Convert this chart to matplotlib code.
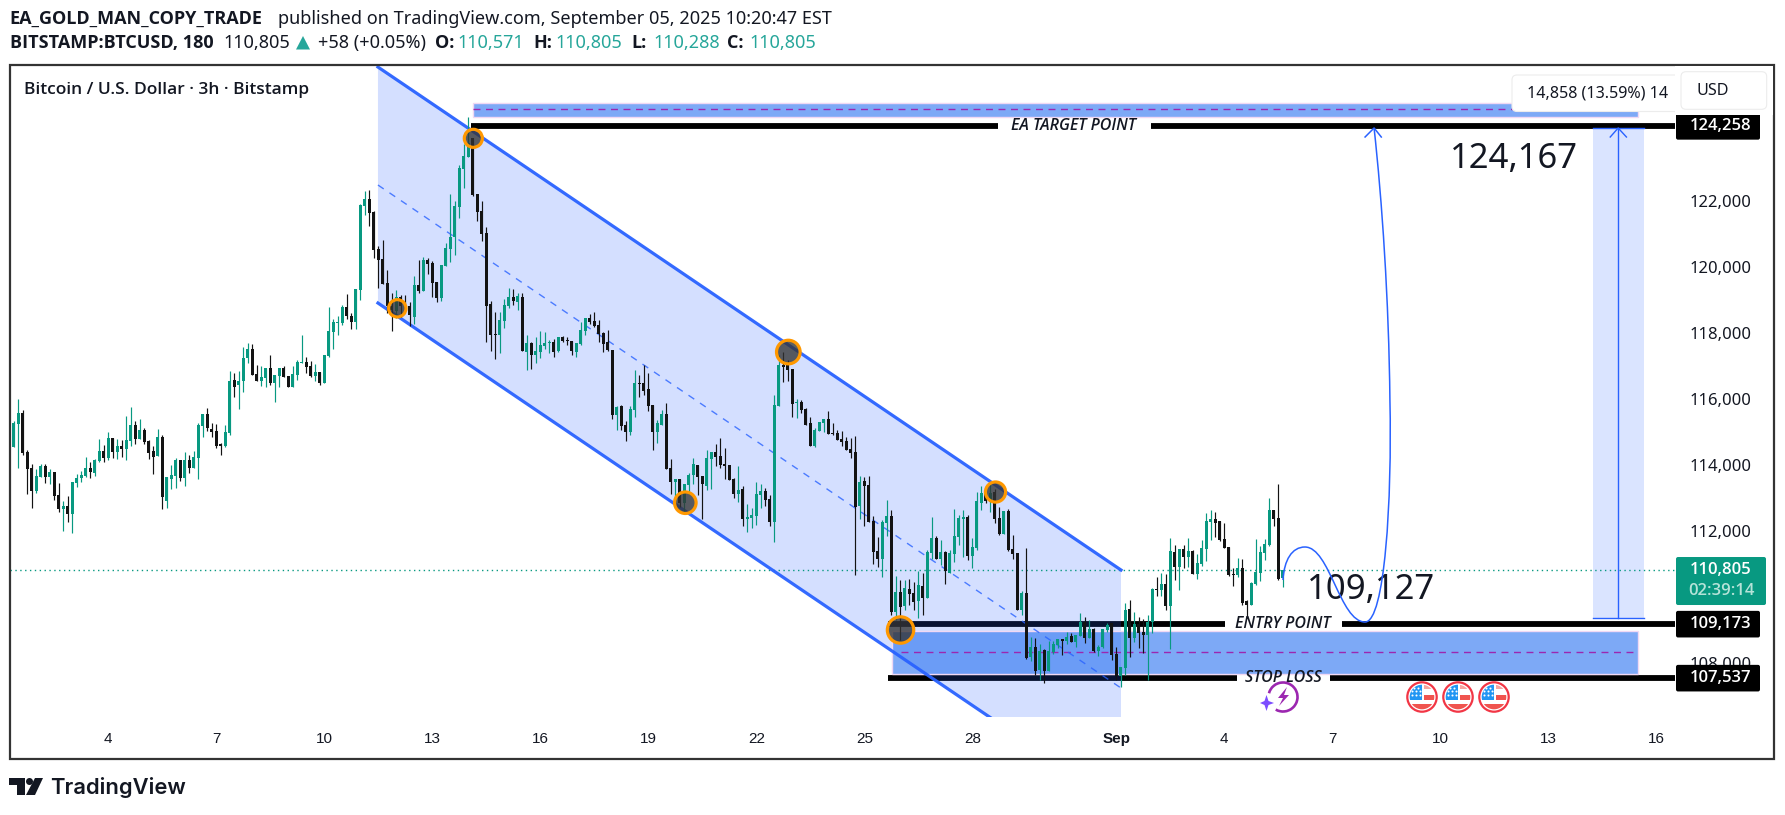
import numpy as np
import matplotlib
matplotlib.use("Agg")
from matplotlib import pyplot as plt
from matplotlib.path import Path
from matplotlib.patches import PathPatch, Rectangle, FancyBboxPatch, Circle, Arc, Polygon

plt.rcParams['font.family'] = ['Noto Sans', 'DejaVu Sans']
bold_font = ['Open Sans', 'DejaVu Sans']

# 3h candles, the first one opens on day 1.25 (day 32 is Sep 1)
first_day = 1.25
candles_per_day = 8

opens = [
    115560,114550,115240,115570,114390,113900,113210,113630,113970,113630,
    113780,113090,112660,112750,112510,113450,113600,113660,113900,113750,
    114120,114420,114210,114810,114390,114570,114480,114720,115210,114780,
    115060,114720,114420,114270,114840,112900,113570,113660,114150,113600,
    114150,113900,114210,115180,115540,115090,115030,114600,114570,114960,
    116570,116420,116540,117240,117510,116750,116540,116630,116930,116480,
    116690,116930,116690,116360,116720,117090,117120,117000,116690,116810,
    116480,117300,118030,118300,118300,118780,118510,118330,119300,121840,
    122060,121660,120540,120240,119510,118810,118660,119090,118840,118810,
    118480,119450,119270,120210,120120,119540,119060,120030,120540,120900,
    121810,122960,123330,123890,122210,121690,121030,118870,117970,117930,
    118360,118810,119090,118930,119090,117420,117690,117330,117420,117600,
    117690,117720,117450,117870,117780,117750,117420,117660,118060,118450,
    118360,118240,118000,117720,117480,115510,115780,115210,115000,115660,
    116480,116480,116300,115810,115000,115210,115540,113900,113480,113570,
    112840,113390,113690,114000,113660,113360,114180,114390,114270,114030,
    114000,113570,113120,113270,112360,112390,112450,113090,113210,112970,
    112270,115780,117030,117080,116900,115880,115900,115690,115270,114570,
    115030,115270,115390,114970,114970,114780,114720,114480,114390,112750,
    113510,113390,112300,111390,111150,112240,112450,109540,110150,109720,
    110240,110120,109880,110330,109970,111330,111780,111150,111360,110720,
    111300,111810,112360,112420,111240,111480,112840,113150,112870,113180,
    112390,111900,112600,111450,111330,109600,110120,108180,108480,107780,
    108390,107750,108330,108540,108700,108660,108810,108630,108810,109240,
    108750,109030,108360,108480,109000,109210,108270,107600,107850,109630,
    108750,109180,108930,108840,109240,110240,110210,110390,109720,111360,
    110900,111450,111210,111390,110690,111000,111450,112270,112360,112300,
    111750,111510,110690,110660,110870,109870,109750,110390,110720,111330,
    111570,112630,112390,110571]
highs = [
    115560,115340,116000,115660,114450,114030,113870,114030,114030,113870,
    113780,113450,112900,113060,113480,113720,113810,114240,114090,114180,
    114780,114600,115000,114810,114780,114750,115480,115750,115330,115390,
    115120,114750,114570,115090,114900,113630,114000,114210,114150,114390,
    114300,114420,115270,115540,115720,115270,115240,114660,115210,116840,
    116780,116840,117570,117690,117660,117030,117000,116930,117330,116720,
    116930,117000,116690,117000,117180,117930,117270,117150,117060,116810,
    117330,118780,118420,118510,118840,119180,118600,119330,121900,122300,
    122330,121690,120630,120810,119900,119210,119300,119150,119150,118930,
    119720,120210,120300,120270,120180,119540,120060,120720,122210,122000,
    123090,123720,124540,123890,122210,122000,121210,118970,118630,118630,
    119030,119360,119330,119210,119210,117930,117720,117870,118060,118030,
    117780,117810,117870,117900,117870,117750,117690,118330,118450,118570,
    118630,118390,118030,118090,117480,115780,115810,115330,115780,116870,
    116720,117030,116780,115810,115360,115660,115870,114180,113570,113570,
    113420,113750,114210,114000,113660,114450,114390,114630,114810,114510,
    114000,113600,113970,113360,112810,112690,113480,113420,113300,113090,
    116120,117330,117420,117180,116900,116000,115970,115720,115450,115120,
    115300,115390,115630,115270,115060,115030,114840,114810,114870,113660,
    113630,113660,112450,111810,112330,112930,112630,110630,110510,110510,
    110540,110450,110780,110720,111420,112420,111840,111720,111390,111420,
    112660,112480,112630,112480,111780,113180,113360,113180,113480,113270,
    112720,112600,112660,111870,111330,110180,111470,108780,108750,108570,
    108420,108660,108660,108720,108720,108930,108900,108840,109510,109390,
    109300,109060,108540,109030,109210,109210,108480,107870,109810,109900,
    109540,109390,109330,109450,110270,110600,110720,110690,111780,111570,
    111450,111570,111780,111420,111300,111720,112540,112630,112570,112300,
    112240,111510,110870,111180,111150,109900,110450,111750,111540,111750,
    113000,112630,113420,110805]
lows = [
    114570,114550,113910,114300,113130,112700,113150,113630,113450,113420,
    112930,112570,112000,112270,111940,113330,113480,113630,113600,113660,
    114090,114090,114150,114210,114180,114240,114150,114570,114630,114780,
    114630,114180,113720,114270,112660,112690,113270,113300,113510,113360,
    113750,113900,113570,114840,115030,114840,114510,114300,114540,114900,
    116060,115690,116210,117090,116720,116540,116390,116360,116420,115900,
    116360,116660,116360,116360,116570,117090,116780,116660,116540,116420,
    116480,117270,117510,117930,118240,118420,118120,118120,119000,121570,
    121240,120270,119360,119480,118600,118060,118450,118480,118690,118210,
    118270,119210,119270,119780,119090,118930,118970,120030,120150,120360,
    121480,122390,123330,122150,121390,120780,117720,117450,117210,117390,
    118150,118750,118840,118690,117450,116870,116900,117090,117240,117510,
    117390,117270,117420,117720,117630,117330,117270,117630,117930,118270,
    118180,117720,117420,117450,115390,115060,115060,114720,114900,115450,
    116060,116120,115630,114450,114660,115210,113870,113120,112720,112720,
    112570,113120,113420,113090,112360,113240,113270,113970,113900,113570,
    113540,113000,112870,112150,111970,112090,112180,112690,112750,112150,
    111660,115780,116510,116540,115450,115420,115570,115210,114570,114540,
    115030,115000,114930,114900,114750,114570,114450,114210,110660,112360,
    112150,112270,111000,110900,110600,111840,109450,109300,108690,109600,
    109750,109600,109360,109450,109970,111150,111150,110970,110390,110720,
    111060,111570,111210,111120,110870,111420,112630,112840,112570,112240,
    111870,111900,111390,111150,109600,109450,108120,108060,107630,107480,
    107390,107750,108270,108450,108240,108570,108630,108480,108810,108600,
    108750,108330,108210,108450,108930,108090,107480,107270,107630,108180,
    108630,108450,108300,107480,108900,110030,110030,109600,108420,110510,
    110210,110870,110900,110690,110540,110930,111090,111720,111810,111690,
    111480,110630,110330,110600,109750,109360,109750,110360,110480,111120,
    111540,112150,110510,110288]
closes = [
    114570,115270,115570,114360,113870,113210,113660,113970,113630,113780,
    113060,112660,112750,112510,113480,113600,113690,113900,113780,114150,
    114420,114210,114810,114390,114570,114480,114750,115210,114780,115060,
    114690,114360,114240,114840,113030,113630,113690,114150,113600,114150,
    113900,114240,115210,115540,115120,115000,114570,114580,115000,116540,
    116360,116540,117240,117510,116720,116540,116660,116930,116480,116720,
    116930,116660,116360,116750,117120,117120,116970,116690,116810,116480,
    117330,118060,118330,118330,118780,118510,118330,119330,121870,122060,
    121630,120510,120210,119480,118810,118690,119090,118810,118810,118540,
    119450,119270,120210,120090,119510,119060,120060,120570,120900,121840,
    123000,123360,123740,122180,121660,121000,118810,117930,117930,118390,
    118840,119090,118970,119120,117450,117690,117330,117450,117630,117690,
    117720,117420,117870,117750,117750,117450,117690,118090,118450,118330,
    118210,117970,117660,117480,115510,115750,115180,115000,115690,116480,
    116450,116240,115780,115000,115270,115540,113870,113480,113570,112840,
    113420,113690,114030,113630,113420,114210,114390,114240,114000,113970,
    113540,113120,113240,112360,112420,112480,113120,113210,112930,112270,
    115810,117030,116970,116870,115840,115910,115660,115210,114570,115060,
    115300,115390,114930,114930,114750,114690,114450,114360,112730,113480,
    113360,112270,111360,111150,112270,112450,109540,110150,109700,110270,
    110090,109840,110360,109970,111360,111780,111150,111360,110780,111330,
    111840,112390,112420,111240,111510,112900,113150,112900,113150,112360,
    111900,112600,111420,111300,109600,110120,108150,108480,107750,108360,
    107750,108360,108570,108720,108670,108780,108630,108840,109240,108750,
    109030,108360,108480,109030,109150,108240,107600,107870,109600,108750,
    109180,108900,108840,109240,110240,110210,110390,109720,111390,110900,
    111450,111210,111390,110690,111030,111480,112300,112360,112240,111720,
    111480,110660,110660,110870,109810,109750,110420,110750,111360,111600,
    112630,112360,110540,110805]

x_tick_days = [4, 7, 10, 13, 16, 19, 22, 25, 28, 32, 35, 38, 41, 44, 47]
x_tick_labels = ['4', '7', '10', '13', '16', '19', '22', '25', '28', 'Sep', '4', '7', '10', '13', '16']
y_ticks = [108000, 112000, 114000, 116000, 118000, 120000, 122000]

last_price = 110805
target_price = 124258
entry_price = 109173
stop_price = 107537

# channel corners: day, price
channel_days = [11.49, 32.13]
channel_upper = [126055, 110814]
channel_lower = [118904, 103663]
channel_middle = [122480, 107238]

touch_days = [14.139, 12.028, 20.028, 22.889, 26.006, 28.644]
touch_prices = [123895, 118744, 112853, 117419, 108996, 113177]
touch_sizes = [13.0, 12.5, 15.5, 17.0, 19.0, 14.5]

# hand drawn curve, day / price of the bezier points
curve_days = [36.63, 36.66, 36.88, 37.24, 37.93, 38.21, 38.91, 39.46, 39.66, 39.60, 39.57, 39.38, 39.16]
curve_prices = [110511, 111117, 111511, 111511, 111511, 109238, 109238, 109238, 112935, 115965, 118996, 122026, 124208]

up_color = '#089981'
down_color = '#131313'
blue = '#2962ff'
ink = '#131722'

W, H = 1785, 815
fig = plt.figure(figsize=(W / 100, H / 100), dpi=100)
fig.patch.set_facecolor('white')

pane_box = [10 / W, (H - 717) / H, 1665 / W, 652 / H]
ax = fig.add_axes(pane_box)
ax.set_xlim(1.269, 47.519)
ax.set_ylim(106360, 126117)
for side in ax.spines.values():
    side.set_visible(False)

# candles
x = first_day + np.arange(len(opens)) / candles_per_day
o = np.array(opens)
c = np.array(closes)
colors = [up_color if b >= a else down_color for a, b in zip(opens, closes)]
ax.vlines(x, lows, highs, colors=colors, linewidth=0.85, zorder=3)
ax.bar(x, np.maximum(np.abs(c - o), 40), bottom=np.minimum(o, c), width=0.085,
       color=colors, linewidth=0, zorder=3.1)

# black levels with a gap for the label
def level_line(price, start, gap_from, gap_to, label, text_day):
    for a, b in [(start, gap_from), (gap_to, 47.519)]:
        ax.plot([a, b], [price, price], color='black', lw=4.2, solid_capstyle='butt', zorder=1)
    ax.text(text_day, price, label, family=bold_font, style='italic', fontsize=11.5, color=ink,
            ha='center', va='center', zorder=5, fontweight='semibold')

level_line(target_price, 14.07, 28.71, 32.96, 'EA TARGET POINT', 30.82)
level_line(entry_price, 25.67, 35.01, 38.26, 'ENTRY POINT', 36.63)
level_line(stop_price, 25.67, 35.35, 37.93, 'STOP LOSS', 36.63)

# channel
ax.fill([channel_days[0], channel_days[1], channel_days[1], channel_days[0]],
        [channel_upper[0], channel_upper[1], channel_lower[1], channel_lower[0]],
        color=blue, alpha=0.2, lw=0, zorder=1.5)
ax.plot(channel_days, channel_upper, color=blue, lw=2.3, alpha=0.95, zorder=2.5)
ax.plot(channel_days, channel_lower, color=blue, lw=2.3, alpha=0.95, zorder=2.5)
ax.plot(channel_days, channel_middle, color=blue, lw=1, ls=(0, (5, 5)), alpha=0.8, zorder=2.5)

# zones
for bottom, top, mid, start, dash_start in [(124550, 124980, 124770, 14.13, 14.13),
                                            (107663, 108975, 108320, 25.77, 26.03)]:
    ax.add_patch(Rectangle((start, bottom), 46.48 - start, top - bottom,
                           facecolor=(31 / 255, 108 / 255, 241 / 255, 0.58),
                           edgecolor='#f0d8f4', lw=1, zorder=2))
    ax.plot([dash_start, 46.35], [mid, mid], color='#9c27b0', lw=1, ls=(0, (5, 4)), zorder=2.2)

ax.axhline(last_price, color=up_color, lw=1, ls=(0, (1, 2.5)), zorder=2.3)

# touch points
ax.scatter(touch_days, touch_prices, s=np.array(touch_sizes) ** 2, facecolor=(0.2, 0.2, 0.2, 0.78),
           edgecolor='#ff9800', linewidth=2.3, zorder=4)

# projected path
codes = [Path.MOVETO] + [Path.CURVE4] * 12
ax.add_patch(PathPatch(Path(np.column_stack([curve_days, curve_prices]), codes),
                       facecolor='none', edgecolor=blue, lw=1.1, zorder=4.5))
ax.plot([38.91, 39.16, 39.36], [123935, 124208, 123935], color=blue, lw=1.1, zorder=4.5)

# measure tool
ax.add_patch(Rectangle((45.24, 109350), 1.41, 14857, facecolor=blue, alpha=0.17, lw=0, zorder=2))
ax.plot([45.24, 46.65], [124207, 124207], color=blue, lw=1, zorder=2.4)
ax.plot([45.24, 46.65], [109350, 109350], color=blue, lw=1, zorder=2.4)
ax.plot([45.94, 45.94], [109350, 124207], color=blue, lw=1, zorder=2.4)
ax.plot([45.72, 45.94, 46.17], [123935, 124207, 123935], color=blue, lw=1, zorder=2.4)

ax.text(43.05, 123268, '124,167', fontsize=25, color=ink, ha='center', va='center', zorder=5)
ax.text(39.08, 110208, '109,127', fontsize=25, color=ink, ha='center', va='center', zorder=4)

# axes ticks
ax.set_xticks(x_tick_days)
ax.set_xticklabels(x_tick_labels, family=['Liberation Sans'], fontsize=11, color=ink)
ax.get_xticklabels()[9].set_fontweight('bold')
ax.yaxis.tick_right()
ax.set_yticks(y_ticks)
ax.set_yticklabels([f'{t:,}' for t in y_ticks], fontsize=12, color=ink)
ax.tick_params(axis='x', length=0, pad=11)
ax.tick_params(axis='y', length=0, pad=10.5)
ax.patch.set_alpha(0)

# price scale boxes, x in pixels, y shares the pane scale
price_ax = fig.add_axes([1675 / W, pane_box[1], 98 / W, pane_box[3]])
price_ax.set_xlim(1675, 1773)
price_ax.set_ylim(ax.get_ylim())
price_ax.axis('off')

def price_box(price, text, color='black', right=1760, up=13.3, down=13.3):
    per_px = 30.303
    price_ax.add_patch(FancyBboxPatch((1676, price - down * per_px), right - 1676, (up + down) * per_px,
                                      boxstyle='round,pad=0,rounding_size=2', mutation_aspect=per_px,
                                      facecolor=color, edgecolor='none', clip_on=False))
    price_ax.text(1721, price, text, color='white', family=bold_font, fontsize=12, fontweight='semibold',
                  ha='center', va='center')

price_box(target_price, f'{target_price:,}')
price_box(entry_price, f'{entry_price:,}')
price_box(stop_price, f'{stop_price:,}')
price_box(last_price, f'{last_price:,}', color=up_color, right=1766, up=13.3, down=34.7)
price_ax.text(1721, 110187, '02:39:14', color='#b5e3d8', family=bold_font, fontsize=12, fontweight='semibold',
              ha='center', va='center')

# everything else is page furniture, drawn in pixels
page = fig.add_axes([0, 0, 1, 1])
page.set_xlim(0, W)
page.set_ylim(H, 0)
page.axis('off')

page.add_patch(Rectangle((10, 65), 1764, 694, fill=False, edgecolor='#333333', lw=1.6))

page.text(23.5, 90, 'Bitcoin / U.S. Dollar · 3h · Bitstamp', family=bold_font, fontsize=12.5,
          fontweight='semibold', color=ink, va='center')

# tooltip and USD box
page.add_patch(FancyBboxPatch((1512, 75), 170, 36.5, boxstyle='round,pad=0,rounding_size=5',
                              facecolor='white', edgecolor='#ececec', lw=0.8, zorder=2))
page.text(1527, 93, '14,858 (13.59%) 14', fontsize=11.6, color=ink, va='center', zorder=3)
page.add_patch(Rectangle((1675, 66), 98, 49, facecolor='white', edgecolor='none', zorder=4))
page.add_patch(FancyBboxPatch((1681, 71.7), 85.7, 37.6, boxstyle='round,pad=0,rounding_size=5',
                              facecolor='white', edgecolor='#ececec', lw=0.8, zorder=5))
page.text(1696, 90.7, 'USD', fontsize=11.6, color=ink, va='center', zorder=6)

# header
page.text(9, 18.5, 'EA_GOLD_MAN_COPY_TRADE', family=bold_font, fontsize=13, fontweight='bold', color=ink, va='center')
page.text(278, 18.5, 'published on TradingView.com, September 05, 2025 10:20:47 EST', fontsize=13,
          color=ink, va='center')
page.text(9.5, 43, 'BITSTAMP:BTCUSD, 180', family=bold_font, fontsize=13, fontweight='bold', color=ink, va='center')
page.text(223, 43, '110,805', fontsize=13, color=ink, va='center')
page.add_patch(Polygon([(296, 49.5), (310, 49.5), (303, 36)], facecolor='#26a69a', edgecolor='none'))
page.text(318, 43, '+58 (+0.05%)', fontsize=13, color=ink, va='center')
for px, tag, val in [(435, 'O:', '110,571'), (533, 'H:', '110,805'), (631, 'L:', '110,288'), (727, 'C:', '110,805')]:
    page.text(px, 43, tag, family=bold_font, fontsize=13, fontweight='bold', color=ink, va='center')
    page.text(px + 22, 43, val, fontsize=13, color='#26a69a', va='center')

# logo
page.add_patch(Polygon([(9, 778), (25, 778), (25, 795), (17, 795), (17, 785), (9, 785)], facecolor=ink, edgecolor='none'))
page.add_patch(Circle((29.5, 781.5), 3.5, facecolor=ink, edgecolor='none'))
page.add_patch(Polygon([(35, 778), (43, 778), (35, 795), (26, 795)], facecolor=ink, edgecolor='none'))
page.text(50, 788, 'TradingView', family=['Inter', 'Noto Sans'], fontsize=15.8, fontweight='semibold',
          color=ink, va='center')

# economic event icons
for cx in [1422, 1458, 1494]:
    cy = 697
    page.add_patch(Circle((cx, cy), 14.7, facecolor='white', edgecolor='#f23645', lw=1.6, zorder=6))
    clip = Circle((cx, cy), 12.3, transform=page.transData)
    for rx, ry, rw, rh, col in [(-13, -13, 13, 16, '#2196f3'), (2, -2.5, 12, 5, '#f0544f'),
                                (-13, 7, 26, 7, '#f0544f'), (2, -12, 12, 4, '#f7a5a0')]:
        r = Rectangle((cx + rx, cy + ry), rw, rh, facecolor=col, edgecolor='none', zorder=7)
        page.add_patch(r)
        r.set_clip_path(clip)
    dots_x = [cx - 10, cx - 6, cx - 2, cx - 10, cx - 6, cx - 2, cx - 8, cx - 4]
    dots_y = [cy - 2, cy - 2, cy - 2, cy - 6, cy - 6, cy - 6, cy - 9, cy - 9]
    page.scatter(dots_x, dots_y, s=2.2, color='white', linewidth=0, zorder=8)

page.add_patch(Arc((1283, 697), 29, 29, theta1=195, theta2=480, edgecolor='#9c27b0', lw=1.9, zorder=6))
page.add_patch(Polygon([(1287, 687), (1278, 698), (1283, 698), (1279, 706), (1289, 695), (1284, 695)],
                       facecolor='#9c27b0', edgecolor='none', zorder=6))
page.add_patch(Polygon([(1266.5, 695), (1268.5, 701), (1274, 703), (1268.5, 705), (1266.5, 711),
                        (1264.5, 705), (1260, 703), (1264.5, 701)], facecolor='#7c4dff', edgecolor='none', zorder=7))

fig.savefig('out.png', dpi=100)
